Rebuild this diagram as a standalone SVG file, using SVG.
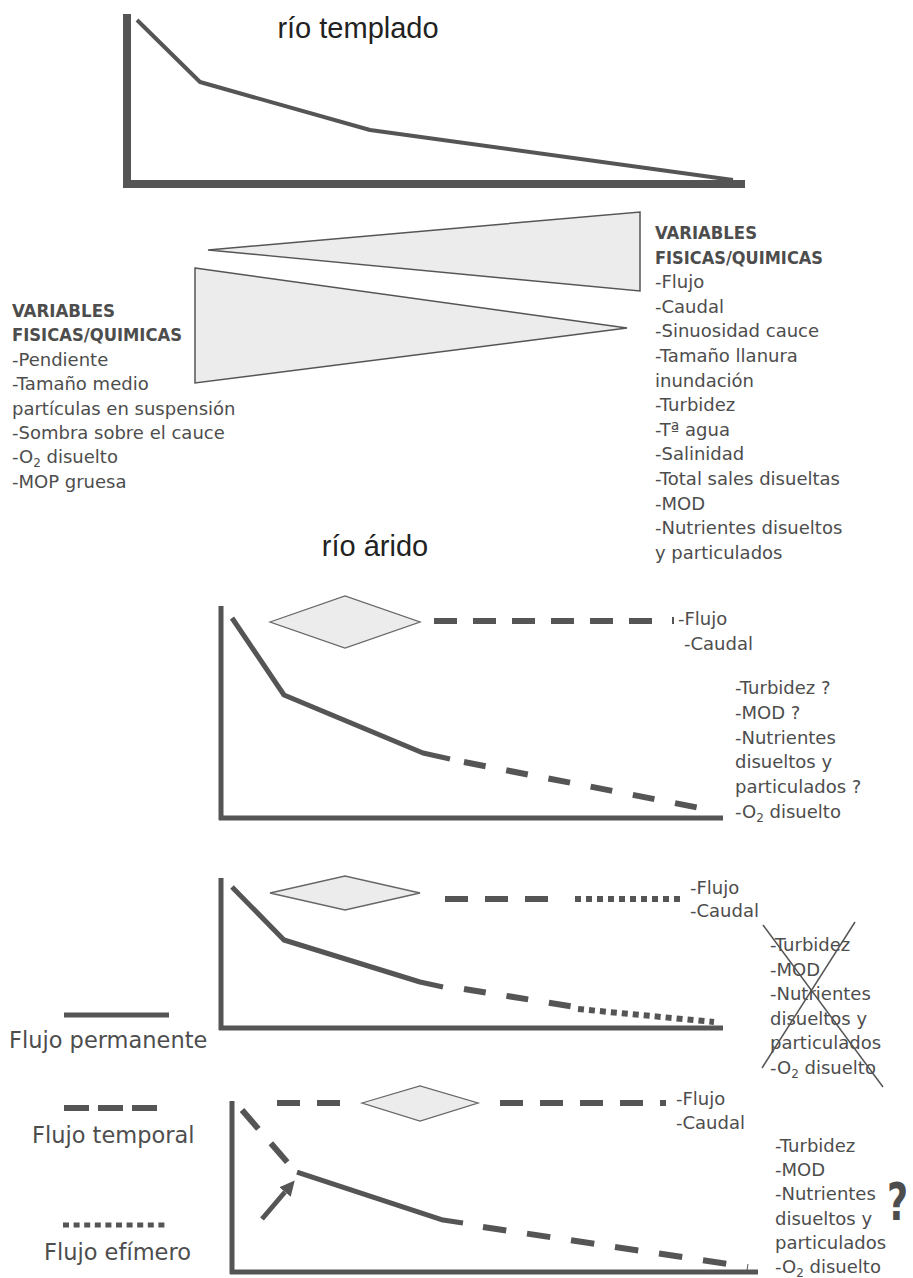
<svg xmlns="http://www.w3.org/2000/svg" width="913" height="1278" viewBox="0 0 913 1278">
<defs>
<style>
.t{font-family:"DejaVu Sans","Noto Sans",sans-serif;font-size:18px;fill:#4d4d4d}
.h{font-family:"DejaVu Sans Condensed","DejaVu Sans",sans-serif;font-weight:bold;font-size:18px;fill:#4d4d4d}
.title{font-family:"Liberation Sans",Arial,sans-serif;font-size:29px;fill:#222}
.leg{font-family:"DejaVu Sans","Noto Sans",sans-serif;font-size:22.5px;fill:#4d4d4d}
.ax{stroke:#555;stroke-width:5;fill:none}
.ax2{stroke:#555;stroke-width:8;fill:none}
.cv{stroke:#555;stroke-width:5;fill:none;stroke-linejoin:round}
.ds{stroke:#555;stroke-width:6;fill:none}
.dot{stroke:#555;stroke-width:6;fill:none;stroke-dasharray:6 5}
.tri{fill:#ececec;stroke:#555;stroke-width:1.5}
.dia{fill:#ececec;stroke:#666;stroke-width:1.3}
.x{stroke:#555;stroke-width:1.5}
</style>
<marker id="ah" viewBox="0 0 10 10" refX="0" refY="5" markerWidth="3" markerHeight="3.6" orient="auto" markerUnits="strokeWidth"><path d="M0,0 L10,5 L0,10 z" fill="#555"/></marker>
</defs>
<rect width="913" height="1278" fill="#fff"/>

<g id="templado">
<text class="title" x="358" y="38" text-anchor="middle">río templado</text>
<line class="ax2" x1="127" y1="14" x2="127" y2="188"/>
<line class="ax2" x1="123" y1="184" x2="745" y2="184"/>
<polyline points="137,20 200,82 370,130 733,180" fill="none" stroke="#555" stroke-width="4" stroke-linejoin="round"/>
</g>

<g id="triangulos">
<polygon class="tri" points="208,250 640,212 640,291"/>
<polygon class="tri" points="195,268 627,328 195,383"/>
</g>

<g id="texto-izq">
<text class="h" x="12" y="317" textLength="103" lengthAdjust="spacingAndGlyphs">VARIABLES</text>
<text class="h" x="12" y="341" textLength="170" lengthAdjust="spacingAndGlyphs">FISICAS/QUIMICAS</text>
<text class="t" x="12" y="366">-Pendiente</text>
<text class="t" x="12" y="390">-Tamaño medio</text>
<text class="t" x="12" y="415">partículas en suspensión</text>
<text class="t" x="12" y="439">-Sombra sobre el cauce</text>
<text class="t" x="12" y="463">-O<tspan font-size="12" dy="4">2</tspan><tspan dy="-4"> disuelto</tspan></text>
<text class="t" x="12" y="488">-MOP gruesa</text>
</g>

<g id="texto-der">
<text class="h" x="655" y="239" textLength="102" lengthAdjust="spacingAndGlyphs">VARIABLES</text>
<text class="h" x="655" y="263.6" textLength="168" lengthAdjust="spacingAndGlyphs">FISICAS/QUIMICAS</text>
<text class="t" x="655" y="288.2">-Flujo</text>
<text class="t" x="655" y="312.8">-Caudal</text>
<text class="t" x="655" y="337.4">-Sinuosidad cauce</text>
<text class="t" x="655" y="362">-Tamaño llanura</text>
<text class="t" x="655" y="386.6">inundación</text>
<text class="t" x="655" y="411.2">-Turbidez</text>
<text class="t" x="655" y="435.8">-Tª agua</text>
<text class="t" x="655" y="460.4">-Salinidad</text>
<text class="t" x="655" y="485">-Total sales disueltas</text>
<text class="t" x="655" y="509.6">-MOD</text>
<text class="t" x="655" y="534.2">-Nutrientes disueltos</text>
<text class="t" x="655" y="558.8">y particulados</text>
</g>

<g id="arido-titulo">
<text class="title" x="375" y="556" text-anchor="middle">río árido</text>
</g>

<g id="arido-1">
<line class="ax" x1="221" y1="606" x2="221" y2="820"/>
<line class="ax" x1="219" y1="818" x2="723" y2="818"/>
<polygon class="dia" points="270,622 345,596 420,622 345,648"/>
<text class="t" x="678" y="625">-Flujo</text>
<text class="t" x="684" y="650">-Caudal</text>
<text class="t" x="735" y="694">-Turbidez ?</text>
<text class="t" x="735" y="719">-MOD ?</text>
<text class="t" x="735" y="744">-Nutrientes</text>
<text class="t" x="735" y="768">disueltos y</text>
<text class="t" x="735" y="793">particulados ?</text>
<text class="t" x="735" y="818">-O<tspan font-size="12" dy="4">2</tspan><tspan dy="-4"> disuelto</tspan></text>
</g>

<g id="arido-2">
<line class="ax" x1="221" y1="878" x2="221" y2="1030"/>
<line class="ax" x1="219" y1="1028" x2="723" y2="1028"/>
<polygon class="dia" points="270,893 345,876 420,893 345,910"/>
<text class="t" x="690" y="894">-Flujo</text>
<text class="t" x="690" y="917">-Caudal</text>
<text class="t" x="770" y="951">-Turbidez</text>
<text class="t" x="770" y="975.5">-MOD</text>
<text class="t" x="770" y="1000">-Nutrientes</text>
<text class="t" x="770" y="1024.5">disueltos y</text>
<text class="t" x="770" y="1049">particulados</text>
<text class="t" x="770" y="1073.5">-O<tspan font-size="12" dy="4">2</tspan><tspan dy="-4"> disuelto</tspan></text>
<line class="x" x1="763" y1="925" x2="883" y2="1087"/>
<line class="x" x1="855" y1="922" x2="762" y2="1068"/>
</g>

<g id="arido-3">
<line class="ax" x1="232" y1="1101" x2="232" y2="1274"/>
<line class="ax" x1="230" y1="1272" x2="758" y2="1272"/>
<polygon class="dia" points="362,1103 420,1086 478,1103 420,1121"/>
<text class="t" x="676" y="1105">-Flujo</text>
<text class="t" x="676" y="1129">-Caudal</text>
<text class="t" x="775" y="1152">-Turbidez</text>
<text class="t" x="775" y="1176">-MOD</text>
<text class="t" x="775" y="1200">-Nutrientes</text>
<text class="t" x="775" y="1225">disueltos y</text>
<text class="t" x="775" y="1249">particulados</text>
<text class="t" x="775" y="1273">-O<tspan font-size="12" dy="4">2</tspan><tspan dy="-4"> disuelto</tspan></text>
<text transform="translate(887,1220) scale(0.7,1)" x="0" y="0" font-family="DejaVu Sans, sans-serif" font-weight="bold" font-size="52" fill="#4d4d4d">?</text>
</g>

<g id="leyenda">
<line x1="64" y1="1015" x2="169" y2="1015" stroke="#555" stroke-width="5"/>
<text class="leg" x="9" y="1048">Flujo permanente</text>
<line x1="64" y1="1108" x2="157" y2="1108" class="ds" stroke-dasharray="25 9"/>
<text class="leg" x="32" y="1143">Flujo temporal</text>
<line x1="63" y1="1225" x2="169" y2="1225" stroke="#555" stroke-width="5" stroke-dasharray="6 4.6"/>
<text class="leg" x="44" y="1260">Flujo efímero</text>
</g>

<g id="conectores">
<line class="ds" x1="434" y1="621" x2="653" y2="621" stroke-dasharray="23 16"/>
<rect x="672" y="617" width="2" height="7" fill="#555"/>
<polyline class="cv" points="232,618 284,695 423,753 450,759"/>
<line class="ds" x1="464" y1="762" x2="700" y2="808" stroke-dasharray="22 21"/>
<line class="ds" x1="445" y1="899" x2="548" y2="899" stroke-dasharray="23 17"/>
<line class="dot" x1="575" y1="899" x2="682" y2="899"/>
<polyline class="cv" points="232,887 284,940 420,982 443,987"/>
<line class="ds" x1="464" y1="989" x2="575" y2="1007" stroke-dasharray="22 21"/>
<line class="dot" x1="578" y1="1009" x2="714" y2="1022"/>
<line class="ds" x1="277" y1="1103" x2="340" y2="1103" stroke-dasharray="23 17"/>
<line class="ds" x1="500" y1="1103" x2="666" y2="1103" stroke-dasharray="23 17"/>
<line class="ds" x1="242" y1="1110" x2="288" y2="1163" stroke-dasharray="25 19"/>
<polyline class="cv" points="297,1172 443,1220 463,1223"/>
<line class="ds" x1="483" y1="1227" x2="748" y2="1267" stroke-dasharray="23.5 21"/>
<line x1="262" y1="1219" x2="285" y2="1192" stroke="#555" stroke-width="5" marker-end="url(#ah)"/>
</g>
</svg>
